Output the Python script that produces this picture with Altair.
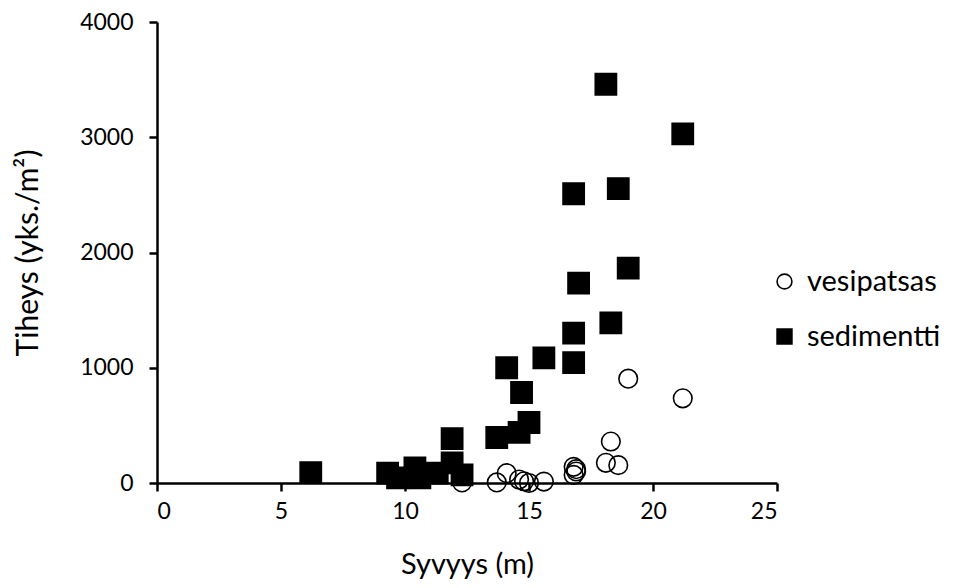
import altair as alt
import pandas as pd

# vesipatsas (water column) points
vesi_depth = [12.3, 13.7, 14.1, 14.6, 14.8, 15.0, 15.6, 16.8, 16.9, 16.8, 16.9, 18.1, 18.3, 18.6, 19.0, 21.2]
vesi_dens = [5, 5, 85, 30, 15, 0, 12, 140, 100, 70, 120, 175, 360, 155, 905, 735]

# sedimentti points
sed_depth = [6.2, 9.3, 9.7, 10.4, 10.6, 11.3, 11.9, 11.9, 12.3, 13.7, 14.1, 14.6, 14.7, 15.0,
             15.6, 16.8, 16.8, 16.8, 17.0, 18.1, 18.3, 18.6, 19.0, 21.2]
sed_dens = [90, 85, 45, 130, 45, 85, 175, 385, 70, 395, 1000, 440, 785, 525,
            1085, 1045, 1300, 2510, 1735, 3460, 1390, 2555, 1865, 3030]

series_names = ["vesipatsas", "sedimentti"]
x_ticks = [0, 5, 10, 15, 20, 25]
y_ticks = [0, 1000, 2000, 3000, 4000]

df = pd.concat([
    pd.DataFrame({"Syvyys": vesi_depth, "Tiheys": vesi_dens, "sarja": series_names[0]}),
    pd.DataFrame({"Syvyys": sed_depth, "Tiheys": sed_dens, "sarja": series_names[1]}),
], ignore_index=True)

FONT = "Lato"

legend = alt.Legend(title=None, orient="none", legendX=613, legendY=245,
                    symbolSize=220, symbolStrokeWidth=1.6,
                    labelFontSize=29, labelFont=FONT, labelColor="black",
                    rowPadding=25, labelOffset=8, padding=0, labelLimit=400)

chart = alt.Chart(df).mark_point(
    filled=True, strokeWidth=1.6, opacity=1, fillOpacity=1, strokeOpacity=1
).transform_calculate(
    koko="datum.sarja == 'vesipatsas' ? 345 : 450"
).encode(
    x=alt.X("Syvyys:Q", title="Syvyys (m)",
            scale=alt.Scale(domain=[0, 25], nice=False, zero=False),
            axis=alt.Axis(values=x_ticks, format="d", grid=False, titleFontSize=29)),
    y=alt.Y("Tiheys:Q", title="Tiheys (yks./m²)",
            scale=alt.Scale(domain=[0, 4000], nice=False),
            axis=alt.Axis(values=y_ticks, format="d", grid=False, titleFontSize=30)),
    shape=alt.Shape("sarja:N", scale=alt.Scale(domain=series_names, range=["circle", "square"]),
                    legend=legend),
    fill=alt.Fill("sarja:N", scale=alt.Scale(domain=series_names, range=["transparent", "black"]),
                  legend=legend),
    stroke=alt.Stroke("sarja:N", scale=alt.Scale(domain=series_names, range=["black", "black"]),
                      legend=legend),
    size=alt.Size("koko:Q", scale=None, legend=None),
).properties(
    width=620, height=461,
    autosize=alt.AutoSizeParams(type="none"),
    padding={"left": 149, "top": 14, "right": 189, "bottom": 97},
).configure_view(
    stroke=None
).configure_axis(
    domainColor="black", domainWidth=2.5,
    tickColor="black", tickWidth=2.5, tickSize=8,
    labelFont=FONT, labelFontSize=23, labelColor="black",
    titleFont=FONT, titleColor="black", titleFontWeight="normal",
).configure_axisX(
    labelPadding=9, titlePadding=27,
).configure_axisY(
    labelPadding=16, titlePadding=36,
)

chart.save("out.html", embed_options={"renderer": "svg", "actions": False})
